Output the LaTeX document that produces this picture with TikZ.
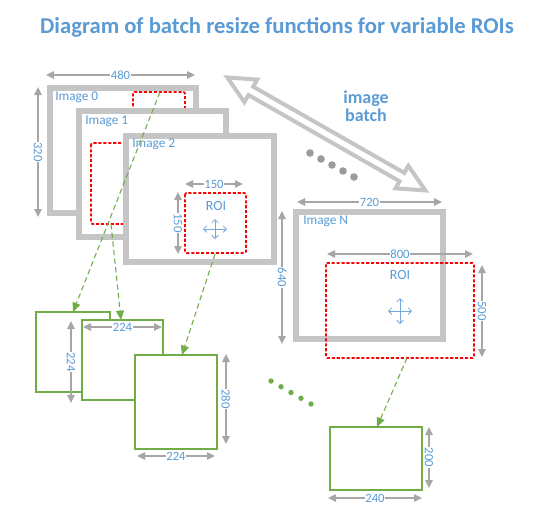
\documentclass[tikz,border=0pt]{standalone}
\usepackage{fontspec}
\setmainfont{Carlito}
\usetikzlibrary{arrows.meta}
\definecolor{bl}{RGB}{91,155,213}
\definecolor{gbox}{RGB}{197,197,197}
\definecolor{dimc}{RGB}{166,166,166}
\definecolor{dotc}{RGB}{155,155,155}
\definecolor{grn}{RGB}{112,173,71}
\definecolor{roired}{RGB}{255,0,0}
\tikzset{
 imgbox/.style={draw=gbox, line width=4.5pt, fill=white},
 roibox/.style={draw=roired, line width=1.25pt, dash pattern=on 2.3pt off 1.4pt, rounded corners=1pt},
 grnbox/.style={draw=grn, line width=1.3pt, fill=white},
 dimline/.style={draw=dimc, line width=1.1pt, {Triangle[length=6pt,width=5.5pt]}-{Triangle[length=6pt,width=5.5pt]}},
 dimlbl/.style={fill=white, text=bl, font=\fontsize{9.5}{10}\selectfont, inner sep=0.6pt},
 imglbl/.style={text=bl, font=\fontsize{10}{11}\selectfont, anchor=west, inner sep=0pt},
 roilbl/.style={text=bl, font=\fontsize{10.5}{11}\selectfont, inner sep=0pt},
 flow/.style={draw=grn, line width=0.8pt, dash pattern=on 4pt off 2.5pt, -{Triangle[length=7pt,width=6pt]}},
 crossh/.style={draw=bl!85, line width=0.6pt, {Straight Barb[length=2.5pt,width=5pt]}-{Straight Barb[length=2.5pt,width=5pt]}},
 batcharrow/.style={draw=gbox, line width=3pt, fill=white, line join=miter},
 gdot/.style={fill=dotc, draw=none},
 grdot/.style={fill=grn, draw=none},
}
\begin{document}
\begin{tikzpicture}[x=0.75pt,y=-0.75pt]
\useasboundingbox (0,0) rectangle (556,511);
\fill[white] (0,0) rectangle (556,511);

% title
\node[text=bl, font=\bfseries\fontsize{17}{20}\selectfont] (title) at (277,27) {Diagram of batch resize functions for variable ROIs};

% dimension 480 / 320
\coordinate (d480a) at (46,75); \coordinate (d480b) at (195,75);
\draw[dimline] (d480a) -- node[dimlbl] (l480) {480} (d480b);
\coordinate (d320a) at (38,87); \coordinate (d320b) at (38,217);
\draw[dimline] (d320a) -- node[dimlbl, rotate=-90] (l320) {320} (d320b);

% image 0
\draw[imgbox] (50,88) rectangle (196,213);
\node[imglbl] (img0) at (55,97) {Image 0};
\draw[roibox] (133,92) rectangle (185,150);
\coordinate (roi0top) at (160,92);

% image 1
\draw[imgbox] (79,111) rectangle (226,237);
\node[imglbl] (img1) at (85,121) {Image 1};
\draw[roibox] (91,143) rectangle (170,224);
\coordinate (roi1bot) at (111,224);

% image 2
\draw[imgbox] (126,136) rectangle (274,262);
\node[imglbl] (img2) at (132,144) {Image 2};
\draw[roibox] (185,193) rectangle (246,253);
\node[roilbl] (roi2lbl) at (216,206) {ROI};
\draw[crossh] (203,229) -- (227,229);
\draw[crossh] (215,219) -- (215,239);
\coordinate (d150ha) at (185,184); \coordinate (d150hb) at (243,184);
\draw[dimline] (d150ha) -- node[dimlbl] (l150h) {150} (d150hb);
\coordinate (d150va) at (178,192); \coordinate (d150vb) at (178,254);
\draw[dimline] (d150va) -- node[dimlbl, rotate=-90] (l150v) {150} (d150vb);
\coordinate (roi2bot) at (215,254);

% batch arrow
\begin{scope}[shift={(223,75)}, rotate=-29.7]
\draw[batcharrow] (5,0) -- (32,13) -- (32,4.8) -- (206,4.8) -- (206,13) -- (233,0)
  -- (206,-13) -- (206,-4.8) -- (32,-4.8) -- (32,-13) -- cycle;
\end{scope}
\node[text=bl, font=\bfseries\fontsize{13.5}{13.5}\selectfont, align=center] (batchlbl) at (366,106) {image\\batch};
\foreach \i in {0,...,4} { \fill[gdot] (310+11*\i,153+6*\i) circle (3.8); }

% image N
\coordinate (d720a) at (297,202); \coordinate (d720b) at (442,202);
\draw[dimline] (d720a) -- node[dimlbl] (l720) {720} (d720b);
\coordinate (d640a) at (282,211); \coordinate (d640b) at (282,344);
\draw[dimline] (d640a) -- node[dimlbl, rotate=-90] (l640) {640} (d640b);
\draw[imgbox] (296,212) rectangle (443,339);
\node[imglbl] (imgN) at (303,221) {Image N};
\draw[roibox] (326,263) rectangle (474,358);
\node[roilbl] (roiNlbl) at (400,275) {ROI};
\draw[crossh] (388,311) -- (412,311);
\draw[crossh] (400,298) -- (400,324);
\coordinate (d800a) at (327,254); \coordinate (d800b) at (473,254);
\draw[dimline] (d800a) -- node[dimlbl] (l800) {800} (d800b);
\coordinate (d500a) at (482,265); \coordinate (d500b) at (482,357);
\draw[dimline] (d500a) -- node[dimlbl, rotate=-90] (l500) {500} (d500b);
\coordinate (roiNbot) at (407,358);

% output boxes
\draw[grnbox] (36,312) rectangle (110,392);
\coordinate (boxAtop) at (73,312);
\coordinate (d224va) at (71,321); \coordinate (d224vb) at (71,403);
\draw[dimline] (d224va) -- node[dimlbl, rotate=-90] (l224v) {224} (d224vb);
\draw[grnbox] (82,320) rectangle (163,400);
\coordinate (boxBtop) at (121,320);
\coordinate (d224ha) at (83,327); \coordinate (d224hb) at (162,327);
\draw[dimline] (d224ha) -- node[dimlbl] (l224h) {224} (d224hb);
\draw[grnbox] (135,355) rectangle (217,449);
\coordinate (boxCtop) at (182,355);
\coordinate (d280a) at (226,354); \coordinate (d280b) at (226,444);
\draw[dimline] (d280a) -- node[dimlbl, rotate=-90] (l280) {280} (d280b);
\coordinate (d224ca) at (137,456); \coordinate (d224cb) at (215,456);
\draw[dimline] (d224ca) -- node[dimlbl] (l224c) {224} (d224cb);

\foreach \i in {0,...,4} { \fill[grdot] (271+10*\i,381+5.75*\i) circle (2.7); }

\draw[grnbox] (330,427) rectangle (422,490);
\coordinate (boxDtop) at (377,427);
\coordinate (d200a) at (429,427); \coordinate (d200b) at (429,488);
\draw[dimline] (d200a) -- node[dimlbl, rotate=-90] (l200) {200} (d200b);
\coordinate (d240a) at (328,498); \coordinate (d240b) at (422,498);
\draw[dimline] (d240a) -- node[dimlbl] (l240) {240} (d240b);

% flows
\draw[flow] (roi0top) -- (boxAtop);
\draw[flow] (roi1bot) -- (boxBtop);
\draw[flow] (roi2bot) -- (boxCtop);
\draw[flow] (roiNbot) -- (boxDtop);
\end{tikzpicture}
\end{document}
